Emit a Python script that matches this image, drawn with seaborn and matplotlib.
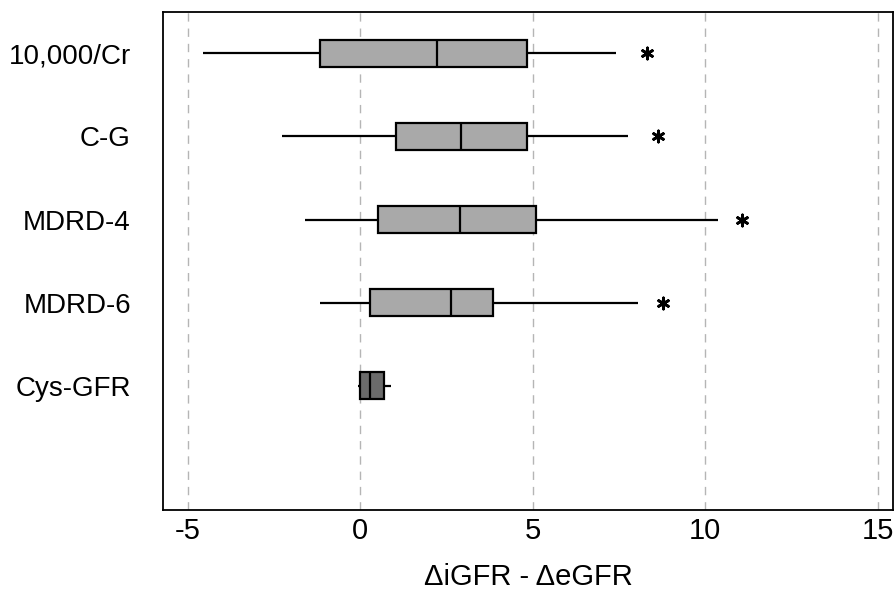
import pandas as pd
import matplotlib.pyplot as plt
import seaborn as sns

# Box summaries (difference iGFR - eGFR)
methods = ['10,000/Cr', 'C-G', 'MDRD-4', 'MDRD-6', 'Cys-GFR']
whisker_low = [-4.55, -2.27, -1.60, -1.16, -0.07]
q1 = [-1.16, 1.05, 0.52, 0.27, 0.00]
median = [2.22, 2.93, 2.88, 2.62, 0.27]
q3 = [4.84, 4.84, 5.10, 3.85, 0.68]
whisker_high = [7.41, 7.77, 10.38, 8.04, 0.88]

outlier_methods = ['10,000/Cr', 'C-G', 'MDRD-4', 'MDRD-6']
outlier_values = [8.32, 8.64, 11.08, 8.77]

x_ticks = [-5, 0, 5, 10, 15]
box_colors = ['#a9a9a9', '#a9a9a9', '#a9a9a9', '#a9a9a9', '#6b6b6b']

# Long table: five points per method give exactly these quartiles
rows = []
for i, m in enumerate(methods):
    for v in [whisker_low[i], q1[i], median[i], q3[i], whisker_high[i]]:
        rows.append({'method': m, 'value': v})
df = pd.DataFrame(rows)

sns.set_style('white')
plt.rcParams['font.family'] = ['Liberation Sans', 'DejaVu Sans']
plt.rcParams['text.color'] = 'black'
plt.rcParams['axes.labelcolor'] = 'black'
plt.rcParams['xtick.color'] = 'black'
plt.rcParams['ytick.color'] = 'black'

fig = plt.figure(figsize=(8.95, 5.96), dpi=100)
ax = fig.add_axes([0.182, 0.144, 0.816, 0.836])

sns.boxplot(data=df, x='value', y='method', order=methods, hue='method',
            hue_order=methods, palette=box_colors, legend=False,
            whis=(0, 100), width=0.33, linewidth=1.6, linecolor='black',
            showcaps=False, ax=ax)

sns.stripplot(x=outlier_values, y=outlier_methods, order=methods,
              jitter=False, marker=(6, 2, 0), color='black', size=8,
              linewidth=2, edgecolor='black', ax=ax)

ax.set_xlim(-5.72, 15.45)
ax.set_ylim(5.5, -0.5)
ax.set_yticks(range(6))
ax.set_yticklabels(methods + [''])
ax.set_xticks(x_ticks)
ax.set_xticklabels([str(t) for t in x_ticks])

ax.grid(axis='x', linestyle=(0, (6, 5)), color='#b5b5b5', linewidth=1)
ax.set_axisbelow(True)

for s in ax.spines.values():
    s.set_visible(True)
    s.set_color('black')
    s.set_linewidth(1.3)

ax.tick_params(axis='both', which='both', direction='out', length=3,
               width=1.2, color='black', labelsize=21, labelcolor='black')
ax.tick_params(axis='y', labelsize=20, pad=20)
ax.tick_params(axis='x', pad=2)

ax.set_xlabel('\u0394iGFR - \u0394eGFR', fontsize=21, labelpad=13)
ax.set_ylabel('')

fig.savefig('out.png', dpi=100)
